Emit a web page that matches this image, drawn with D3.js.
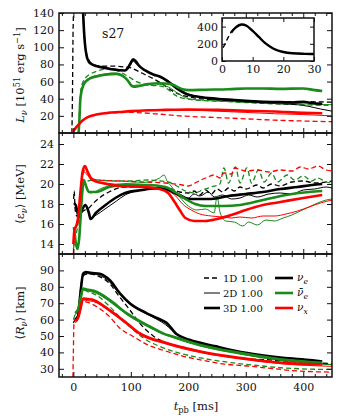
<!DOCTYPE html>
<html>
<head>
<meta charset="utf-8">
<script src="https://cdn.jsdelivr.net/npm/d3@7"></script>
<style>
  body { margin: 0; background: #fff; }
  text { font-family: "DejaVu Serif", serif; fill: #111; }
</style>
</head>
<body>
<svg id="chart" width="339" height="417"></svg>
<script>
// luminosity [1e51 erg/s], pairs of [t_pb ms, value]
const lumNue1D = [[-2.5,0],[-1.5,50],[-0.5,120],[0,135],[1.5,240],[3,335],[4.5,390],[6.4,425],[8,410],[10,350],[12,280],[14,210],[16,160],[18,125],[20,105],[23,92],[27,85],[35,80],[50,78],[70,78],[90,77],[100,76],[110,73],[125,68],[140,63],[155,57],[170,50],[185,45],[210,41],[250,38.5],[300,37],[350,36.5],[400,36.5],[450,36]];
const lumNue2D = [[3,330],[4.5,390],[6.4,425],[8,410],[10,350],[12,280],[14,210],[16,160],[18,125],[20,104],[23,90],[27,83],[30,81],[40,78],[55,76],[70,75],[90,73],[100,80],[104,84],[110,80],[120,75],[130,71],[140,68],[150,66],[165,61],[180,53],[195,47],[220,42],[250,39],[280,37],[300,36],[330,35],[360,34],[390,33],[410,31],[430,28],[450,25.5]];
const lumNue3D = [[3,330],[4.5,390],[6.4,425],[8,410],[10,350],[12,280],[14,210],[16,160],[17,140],[18,125],[20,105],[23,90],[27,83],[30,81],[40,78],[55,76],[70,74],[90,73],[95,76],[100,82],[104,86],[108,84],[115,78],[125,73],[140,68],[150,66],[165,60],[180,52],[195,46],[220,42],[250,40],[280,38.5],[300,37.5],[330,36.5],[360,36],[380,35.5],[400,36.5],[415,35],[433,34]];
const lumNuebar1D = [[9,0],[11,30],[13,50],[17,60],[22,65],[30,69],[45,73],[60,75],[75,73],[90,68],[100,64],[110,60],[130,56],[150,55],[160,53],[170,48],[180,43],[195,40],[220,38],[260,37],[300,35.5],[350,34],[400,33],[450,32]];
const lumNuebar2D = [[9,0],[10.5,15],[12,38],[14,48],[17,56],[20,60],[25,63],[30,65],[40,67],[55,69],[70,70],[80,69],[90,64],[97,58],[103,55],[110,56],[120,55],[130,57],[140,55],[150,57],[160,55],[170,52],[180,47],[190,43],[200,40],[230,38],[260,37],[300,36],[350,35],[400,34],[450,33]];
const lumNuebar3D = [[9,0],[10.5,15],[12,38],[14,48],[17,55],[20,59],[25,62],[30,64],[40,66],[55,68],[75,69],[85,67],[95,61],[100,56],[105,54],[115,55],[130,57],[150,58],[170,57],[180,54],[190,51],[200,50],[230,50.5],[270,51],[300,52],[330,52],[360,51.5],[400,52],[420,50],[433,49]];
const lumNux1D = [[-2,0],[0,2],[3,5],[8,9],[15,14],[25,18.5],[40,21.5],[60,23],[80,23.8],[100,24],[120,23.5],[150,22],[185,20],[250,18],[300,16.5],[350,15],[400,14],[450,13.2]];
const lumNux2D = [[-2,0],[0,2],[3,5],[8,9],[15,14],[25,18.5],[40,21.5],[60,23.5],[80,24.5],[100,25.5],[150,26.5],[200,26.5],[250,25.5],[300,24],[350,22.5],[400,21.5],[450,20]];
const lumNux3D = [[-2,0],[0,2],[3,5],[8,9],[15,14],[25,18.5],[40,21.5],[60,23.5],[80,24.5],[100,25.5],[130,26.5],[160,27],[200,27.5],[250,27],[300,26],[350,25],[400,23.5],[433,23]];

// mean energy [MeV]
const eneNue1D = [[0.5,18.5],[1.5,19.3],[3,17.5],[6,16.8],[10,16.8],[15,17.2],[20,17.4],[27,17.6],[35,18.1],[45,18.6],[62,19.2],[90,19.7],[120,19.7],[150,19.6],[170,19.5],[185,19.2],[200,19.1],[210,19.3],[220,18.9],[230,19.4],[240,19.0],[250,19.5],[260,19.2],[270,19.6],[280,19.3],[290,19.7],[300,19.5],[320,19.9],[330,19.6],[345,20.0],[360,19.8],[380,20.2],[400,20.3],[420,20.1],[450,20.3]];
const eneNue2D = [[1,18],[4,17.8],[9,16.8],[14,17.4],[20,17.8],[26,17.2],[30,16.6],[40,16.9],[55,17.5],[75,18.3],[90,18.9],[110,19.3],[140,19.5],[165,19.4],[185,19.0],[200,18.6],[210,19.0],[220,18.8],[235,19.2],[245,18.7],[260,18.9],[275,18.5],[290,18.6],[305,18.9],[320,18.7],[340,19.0],[360,19.1],[380,19.0],[400,19.4],[420,19.5],[440,19.7],[450,19.6]];
const eneNue3D = [[1,18.1],[4,17.9],[9.7,16.7],[15,17.4],[21,17.9],[27,17.1],[30,16.5],[39,17.1],[56,17.9],[73,18.6],[90,19.1],[120,19.4],[148,19.6],[166,19.4],[183,18.9],[200,18.5],[218,18.5],[240,18.5],[270,18.8],[300,19.0],[330,19.2],[360,19.5],[390,19.7],[415,19.9],[433,20.0]];
const eneNuebar1D = [[0,13.5],[3,14.5],[8,16],[13,19],[18,20.2],[25,20.3],[40,20.4],[70,20.3],[100,20.3],[130,20.4],[150,20.3],[165,20.2],[180,19.8],[195,19.3],[210,19.1],[225,19.4],[240,19.7],[255,20.0],[262,21.6],[270,20.1],[282,21.7],[290,20.1],[302,21.6],[310,20.1],[322,21.4],[332,20.2],[345,21.1],[355,20.2],[372,20.9],[385,20.4],[400,20.8],[415,20.3],[425,20.6],[440,20.2],[450,20.1]];
const eneNuebar2D = [[1,15.5],[4,14],[7,13.6],[11,15],[15,18.5],[19,20.0],[24,19.4],[30,19.1],[50,19.6],[80,20.0],[110,20.1],[130,20.2],[150,20.6],[158,20.9],[163,20.3],[170,19.8],[185,18.7],[200,17.8],[215,17.4],[230,17.5],[245,17.1],[250,18.8],[255,17.2],[265,16.3],[280,16.2],[295,15.8],[305,16.2],[320,15.9],[335,16.4],[350,16.3],[365,16.6],[380,16.9],[395,17.3],[410,17.7],[425,18.1],[440,18.4],[450,18.5]];
const eneNuebar3D = [[1,15.7],[4,14.2],[7,13.5],[10,14.5],[14,18],[18,20.4],[22,19.8],[27,19.2],[40,19.2],[62,19.7],[90,19.9],[130,19.9],[160,19.7],[177,19.2],[195,18.5],[212,18.0],[230,17.8],[260,17.8],[290,17.9],[330,18.4],[370,18.9],[410,19.2],[433,19.3]];
const eneNux1D = [[0,13],[2,15],[6,16],[10,17.5],[15,20.5],[20,21.4],[28,20.8],[40,20.4],[80,20.3],[120,20.2],[160,20.1],[190,19.9],[200,19.8],[215,20.2],[230,20.6],[245,20.9],[255,20.6],[262,21.1],[275,21.0],[280,21.6],[300,21.3],[320,21.4],[340,21.2],[360,21.4],[380,21.3],[395,21.7],[410,21.5],[425,21.8],[440,21.4],[450,21.3]];
const eneNux2D = [[0,14.5],[3,15.6],[8,16.3],[13,19.5],[18,21.2],[23,21.0],[30,20.5],[45,20.2],[70,20.0],[100,19.9],[140,19.6],[165,19.3],[178,18.8],[190,18.0],[205,17.4],[220,17.0],[240,16.8],[260,16.7],[275,16.6],[290,16.7],[310,16.6],[330,16.8],[350,16.8],[370,17.0],[390,17.3],[410,17.7],[430,18.1],[450,18.4]];
const eneNux3D = [[0,14.0],[2,15.5],[5,15.8],[8,16.5],[12,19],[16,21.2],[20,21.8],[25,21.2],[33,20.4],[50,20.1],[80,19.8],[120,19.7],[150,19.5],[165,19.1],[175,18.3],[185,17.4],[195,16.6],[210,16.3],[230,16.3],[250,16.5],[280,17.0],[300,17.4],[330,17.9],[360,18.2],[400,18.6],[433,18.9]];

// mean radius [km]
const radNue1D = [[0,58],[3,60],[8,63],[13,80],[18,87],[25,88],[40,87],[63,82],[80,74],[98,66],[115,58],[139,50],[160,46],[196,42.7],[248,38.7],[306,36],[335,35.6],[393,34],[450,33.2]];
const radNue2D = [[3,60],[8,62],[12,75],[17,87],[25,88],[40,87.5],[60,84],[80,76],[100,69],[130,63],[160,57],[180,51],[200,47],[250,43],[300,39],[360,36],[420,33.5],[450,32.5]];
const radNue3D = [[3,60],[8,62],[12,75],[17,88],[22,89],[30,88.5],[46,88],[63.5,84],[81,76],[98,70],[127,64],[145,61],[162,58],[180,51],[202,47.7],[248,43.7],[300,39.7],[364,36.7],[416,35.2],[433,34.5]];
const radNuebar1D = [[0,60],[3,63],[8,66],[13,73],[18,78],[25,77],[40,75],[63,68],[85,60],[104,53.8],[125,48],[150,43.7],[180,40],[208,37.6],[240,35.5],[278,33.6],[320,32],[364,30.6],[410,29.8],[450,29.6]];
const radNuebar2D = [[3,63],[8,65],[12,71],[17,78],[25,77.5],[40,76],[63,71],[93,63],[133,55],[173,49],[219,44],[289,39],[364,35],[450,32.5]];
const radNuebar3D = [[3,64],[8,66],[12,72],[17,79],[22,78.5],[40,77],[63,72],[93,63.8],[133,55.8],[160,51],[173,49.7],[219,44.7],[289,39.7],[364,35.6],[433,33.6]];
const radNux1D = [[-1,20],[0,40],[1,58],[4,60],[8,61],[13,68],[18,71],[25,70.5],[40,68],[63,61.8],[80,55],[104,49.7],[130,44.5],[162,40.7],[190,37.8],[219,35.6],[260,33],[306,31.6],[350,30],[393,28.6],[450,28]];
const radNux2D = [[3,58],[8,60],[12,65],[17,72],[25,71.5],[35,71],[63,65],[93,57],[115,51],[162,45],[219,40],[289,36],[364,33],[450,31.5]];
const radNux3D = [[3,59],[8,61],[12,66],[17,72.9],[25,72.5],[35,72],[50,69],[63,65.8],[93,57.8],[115,51.7],[162,45.7],[219,40.7],[289,36.7],[364,33.6],[433,32.6]];

const lumTicks = [20, 40, 60, 80, 100, 120, 140];
const eneTicks = [14, 16, 18, 20, 22, 24];
const radTicks = [30, 40, 50, 60, 70, 80, 90];
const timeTicks = [0, 100, 200, 300, 400];
const insetTimeTicks = [0, 10, 20, 30];
const insetLumTicks = [0, 200, 400];
const dimLabels = ['1D 1.00', '2D 1.00', '3D 1.00'];
const speciesKeys = ['nue', 'nuebar', 'nux'];

const colors = { nue: '#000000', nuebar: '#1a8a1a', nux: '#ff0000' };
const dimStyle = {
  '1D': { width: 1.3, dash: '5,3' },
  '2D': { width: 1.0, dash: null },
  '3D': { width: 2.6, dash: null },
};

const svg = d3.select('#chart');
const x = d3.scaleLinear([-25, 450], [59, 332]);

const panels = [
  { id: 'lum', domain: [0, 140], range: [133, 13], ticks: lumTicks,
    series: { nue: [lumNue1D, lumNue2D, lumNue3D], nuebar: [lumNuebar1D, lumNuebar2D, lumNuebar3D], nux: [lumNux1D, lumNux2D, lumNux3D] } },
  { id: 'ene', domain: [13, 25.1], range: [254, 133], ticks: eneTicks,
    series: { nue: [eneNue1D, eneNue2D, eneNue3D], nuebar: [eneNuebar1D, eneNuebar2D, eneNuebar3D], nux: [eneNux1D, eneNux2D, eneNux3D] } },
  { id: 'rad', domain: [25, 100], range: [377, 254], ticks: radTicks,
    series: { nue: [radNue1D, radNue2D, radNue3D], nuebar: [radNuebar1D, radNuebar2D, radNuebar3D], nux: [radNux1D, radNux2D, radNux3D] } },
];

// writes italic / sub / sup pieces into one text element
function rich(text, parts) {
  let shift = 0;
  parts.forEach((p) => {
    const ts = text.append('tspan').text(p.t);
    const target = p.sub ? 3 : p.sup ? -4.5 : 0;
    if (target !== shift) { ts.attr('dy', target - shift); shift = target; }
    if (p.sub || p.sup) ts.attr('font-size', '0.72em');
    if (p.it) ts.attr('font-style', 'italic');
  });
}

function styleAxis(g) {
  g.select('.domain').remove();
  g.selectAll('.tick line').attr('stroke', '#111').attr('stroke-width', 1);
  g.selectAll('.tick text').attr('font-size', 11).attr('fill', '#222');
}

const dims = ['1D', '2D', '3D'];

panels.forEach((p, pi) => {
  const y = d3.scaleLinear(p.domain, p.range);
  const [top, bottom] = [p.range[1], p.range[0]];
  const clipId = 'clip-' + p.id;
  svg.append('clipPath').attr('id', clipId)
    .append('rect').attr('x', x.range()[0]).attr('y', top)
    .attr('width', x.range()[1] - x.range()[0]).attr('height', bottom - top);

  const line = d3.line().x((d) => x(d[0])).y((d) => y(d[1])).curve(d3.curveMonotoneX);
  const plot = svg.append('g').attr('clip-path', `url(#${clipId})`);
  dims.forEach((dim, di) => {
    speciesKeys.forEach((sp) => {
      plot.append('path')
        .attr('d', line(p.series[sp][di]))
        .attr('fill', 'none')
        .attr('stroke', colors[sp])
        .attr('stroke-width', dimStyle[dim].width)
        .attr('stroke-dasharray', dimStyle[dim].dash)
        .attr('stroke-linejoin', 'round');
    });
  });

  // inward ticks on all four sides
  svg.append('g').attr('transform', `translate(${x.range()[0]},0)`)
    .call(d3.axisLeft(y).tickValues(p.ticks).tickSize(-5).tickPadding(5))
    .call(styleAxis);
  svg.append('g').attr('transform', `translate(${x.range()[1]},0)`)
    .call(d3.axisRight(y).tickValues(p.ticks).tickSize(-5).tickFormat(''))
    .call(styleAxis);
  const minor = d3.range(-20, 451, 20).filter((v) => v % 100 !== 0);
  [[bottom, d3.axisBottom], [top, d3.axisTop]].forEach(([yy, ax]) => {
    svg.append('g').attr('transform', `translate(0,${yy})`)
      .call(ax(x).tickValues(timeTicks).tickSize(-5).tickPadding(6)
        .tickFormat(pi === 2 && ax === d3.axisBottom ? d3.format('d') : ''))
      .call(styleAxis);
    svg.append('g').attr('transform', `translate(0,${yy})`)
      .call(ax(x).tickValues(minor).tickSize(-3).tickFormat(''))
      .call(styleAxis);
  });

  svg.append('rect')
    .attr('x', x.range()[0]).attr('y', top)
    .attr('width', x.range()[1] - x.range()[0]).attr('height', bottom - top)
    .attr('fill', 'none').attr('stroke', '#111').attr('stroke-width', 1.5);
});

// y labels
const yLabels = [
  { cy: 75, parts: [{ t: 'L', it: 1 }, { t: 'ν', it: 1, sub: 1 }, { t: ' [10' }, { t: '51', sup: 1 }, { t: ' erg s' }, { t: '−1', sup: 1 }, { t: ']' }] },
  { cy: 194, parts: [{ t: '⟨ε' }, { t: 'ν', it: 1, sub: 1 }, { t: '⟩ [MeV]' }] },
  { cy: 313, parts: [{ t: '⟨' }, { t: 'R', it: 1 }, { t: 'ν', it: 1, sub: 1 }, { t: '⟩ [km]' }] },
];
yLabels.forEach((l) => {
  const t = svg.append('text')
    .attr('transform', `translate(24,${l.cy}) rotate(-90)`)
    .attr('text-anchor', 'middle').attr('font-size', 11.5);
  rich(t, l.parts);
});

const xl = svg.append('text').attr('x', 196).attr('y', 410)
  .attr('text-anchor', 'middle').attr('font-size', 11.5);
rich(xl, [{ t: 't', it: 1 }, { t: 'pb', sub: 1 }, { t: ' [ms]' }]);

svg.append('text').attr('x', 102).attr('y', 38).attr('font-size', 12.5).text('s27');

// inset with the neutronization burst
const ix = d3.scaleLinear([0, 30], [222, 314]);
const iy = d3.scaleLinear([0, 500], [61, 18]);
svg.append('rect').attr('x', 222).attr('y', 18).attr('width', 92).attr('height', 43).attr('fill', '#fff');
svg.append('clipPath').attr('id', 'clip-inset')
  .append('rect').attr('x', 222).attr('y', 18).attr('width', 92).attr('height', 43);
const iline = d3.line().x((d) => ix(d[0])).y((d) => iy(d[1])).curve(d3.curveMonotoneX);
const ig = svg.append('g').attr('clip-path', 'url(#clip-inset)');
ig.append('path').attr('d', iline(lumNue1D)).attr('fill', 'none').attr('stroke', '#000')
  .attr('stroke-width', 1.4).attr('stroke-dasharray', '5,3');
ig.append('path').attr('d', iline(lumNue3D)).attr('fill', 'none').attr('stroke', '#000')
  .attr('stroke-width', 2.4);
svg.append('g').attr('transform', 'translate(222,0)')
  .call(d3.axisLeft(iy).tickValues(insetLumTicks).tickSize(-4).tickPadding(4)).call(styleAxis);
svg.append('g').attr('transform', 'translate(314,0)')
  .call(d3.axisRight(iy).tickValues(insetLumTicks).tickSize(-4).tickFormat('')).call(styleAxis);
svg.append('g').attr('transform', 'translate(0,61)')
  .call(d3.axisBottom(ix).tickValues(insetTimeTicks).tickSize(-4).tickPadding(4)).call(styleAxis);
svg.append('g').attr('transform', 'translate(0,18)')
  .call(d3.axisTop(ix).tickValues(insetTimeTicks).tickSize(-4).tickFormat('')).call(styleAxis);
svg.append('rect').attr('x', 222).attr('y', 18).attr('width', 92).attr('height', 43)
  .attr('fill', 'none').attr('stroke', '#111').attr('stroke-width', 1.5);

// legend
const legendRows = [278, 293, 308];
const speciesLabels = [
  [{ t: 'ν', it: 1 }, { t: 'e', it: 1, sub: 1 }],
  [{ t: 'ν̄', it: 1 }, { t: 'e', it: 1, sub: 1 }],
  [{ t: 'ν', it: 1 }, { t: 'x', it: 1, sub: 1 }],
];
dims.forEach((dim, i) => {
  const yy = legendRows[i];
  svg.append('line').attr('x1', 204).attr('x2', 220).attr('y1', yy).attr('y2', yy)
    .attr('stroke', '#000').attr('stroke-width', dimStyle[dim].width)
    .attr('stroke-dasharray', dimStyle[dim].dash);
  svg.append('text').attr('x', 223).attr('y', yy + 3.5).attr('font-size', 10).text(dimLabels[i]);
  const sp = speciesKeys[i];
  svg.append('line').attr('x1', 275).attr('x2', 293).attr('y1', yy).attr('y2', yy)
    .attr('stroke', colors[sp]).attr('stroke-width', 2.6);
  const t = svg.append('text').attr('x', 297).attr('y', yy + 3).attr('font-size', 10.5);
  rich(t, speciesLabels[i]);
});
</script>
</body>
</html>
